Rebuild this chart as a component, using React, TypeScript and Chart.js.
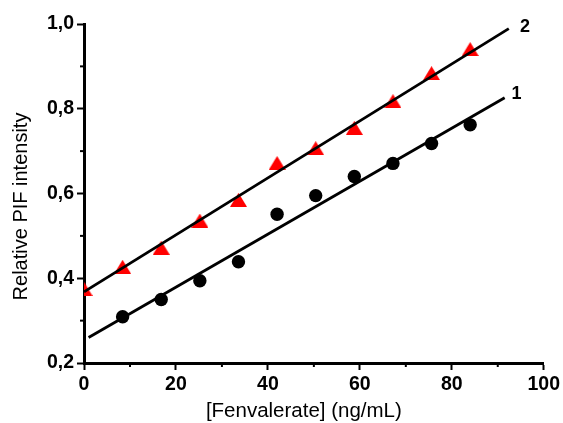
import React, { useEffect, useRef } from 'react';
import { Chart, registerables } from 'chart.js';

Chart.register(...registerables);

// Data
const series1X = [8.4, 16.8, 25.2, 33.6, 42, 50.4, 58.8, 67.2, 75.6, 84];
const series1Y = [0.309, 0.350, 0.394, 0.439, 0.551, 0.595, 0.640, 0.671, 0.718, 0.762];
const series2X = [0, 8.4, 16.8, 25.2, 33.6, 42, 50.4, 58.8, 67.2, 75.6, 84];
const series2Y = [0.375, 0.427, 0.472, 0.536, 0.585, 0.672, 0.707, 0.755, 0.818, 0.884, 0.941];
const fit1X = [1, 91.5];
const fit1Y = [0.26, 0.826];
const fit2X = [0, 92.4];
const fit2Y = [0.368, 0.989];
const lineLabels = ['1', '2'];
const lineLabelX = [94.1, 95.9];
const lineLabelY = [0.835, 0.993];
const xTicks = [0, 20, 40, 60, 80, 100];
const yTicks = [0.2, 0.4, 0.6, 0.8, 1.0];
const xMinorTicks = [10, 30, 50, 70, 90];
const yMinorTicks = [0.3, 0.5, 0.7, 0.9];
const xTitle = '[Fenvalerate] (ng/mL)';
const yTitle = 'Relative PIF intensity';

const FONT = 'Arial, "Liberation Sans", sans-serif';
const toPts = (xs: number[], ys: number[]) => xs.map((x, i) => ({ x, y: ys[i] }));
const fmt = (v: number) => v.toFixed(1).replace('.', ',');

function makeTriangle(w: number, h: number, color: string) {
  const c = document.createElement('canvas');
  c.width = w;
  c.height = h;
  const g = c.getContext('2d')!;
  g.fillStyle = color;
  g.beginPath();
  g.moveTo(w / 2, 0);
  g.lineTo(w, h);
  g.lineTo(0, h);
  g.closePath();
  g.fill();
  return c;
}

const extrasPlugin = {
  id: 'extras',
  afterDraw(chart: any) {
    const { ctx, chartArea, scales } = chart;
    const xs = scales.x;
    const ys = scales.y;
    ctx.save();
    ctx.strokeStyle = '#000';
    ctx.lineWidth = 2;
    xMinorTicks.forEach((v) => {
      const px = xs.getPixelForValue(v);
      ctx.beginPath();
      ctx.moveTo(px, chartArea.bottom);
      ctx.lineTo(px, chartArea.bottom + 4);
      ctx.stroke();
    });
    yMinorTicks.forEach((v) => {
      const py = ys.getPixelForValue(v);
      ctx.beginPath();
      ctx.moveTo(chartArea.left, py);
      ctx.lineTo(chartArea.left - 4, py);
      ctx.stroke();
    });
    ctx.fillStyle = '#000';
    ctx.font = `bold 18px ${FONT}`;
    ctx.textAlign = 'center';
    ctx.textBaseline = 'middle';
    lineLabels.forEach((t, i) => {
      ctx.fillText(t, xs.getPixelForValue(lineLabelX[i]), ys.getPixelForValue(lineLabelY[i]));
    });
    // axis titles
    ctx.font = `20.5px ${FONT}`;
    ctx.textBaseline = 'alphabetic';
    ctx.fillText(xTitle, (chartArea.left + chartArea.right) / 2 - 10, 416.5);
    ctx.font = `20px ${FONT}`;
    ctx.translate(27, (chartArea.top + chartArea.bottom) / 2 + 13);
    ctx.rotate(-Math.PI / 2);
    ctx.fillText(yTitle, 0, 0);
    ctx.restore();
  },
};

export default function App() {
  const ref = useRef<HTMLCanvasElement | null>(null);
  useEffect(() => {
    if (!ref.current) return;
    const tickFont = { family: FONT, size: 19.5, weight: 'bold' as const };
    const tri = makeTriangle(17, 14, '#ff0000');
    const chart = new Chart(ref.current, {
      type: 'scatter',
      data: {
        datasets: [
          {
            label: 'fit2',
            data: toPts(fit2X, fit2Y),
            showLine: true,
            borderColor: '#000',
            borderWidth: 2.8,
            pointRadius: 0,
          },
          {
            label: 'fit1',
            data: toPts(fit1X, fit1Y),
            showLine: true,
            borderColor: '#000',
            borderWidth: 2.8,
            pointRadius: 0,
          },
          {
            label: '2',
            data: toPts(series2X, series2Y),
            pointStyle: tri,
            pointRadius: 8.5,
            backgroundColor: '#ff0000',
            borderColor: '#ff0000',
            borderWidth: 0,
          },
          {
            label: '1',
            data: toPts(series1X, series1Y),
            pointStyle: 'circle',
            pointRadius: 6.7,
            backgroundColor: '#000',
            borderColor: '#000',
            borderWidth: 0,
          },
        ],
      } as any,
      options: {
        animation: false,
        responsive: true,
        maintainAspectRatio: false,
        layout: { padding: { left: 0, top: 24, right: 18, bottom: 0 } },
        plugins: { legend: { display: false }, tooltip: { enabled: false } },
        scales: {
          x: {
            type: 'linear',
            min: 0,
            max: 100,
            afterBuildTicks: (s: any) => {
              s.ticks = xTicks.map((v) => ({ value: v }));
            },
            afterFit: (s: any) => {
              s.height = 60;
            },
            ticks: { font: tickFont, color: '#000', padding: 3, maxRotation: 0 },
            grid: { drawOnChartArea: false, drawTicks: true, tickLength: 7, tickWidth: 2, tickColor: '#000' },
            border: { color: '#000', width: 3 },
          },
          y: {
            type: 'linear',
            min: 0.2,
            max: 1.0,
            afterBuildTicks: (s: any) => {
              s.ticks = yTicks.map((v) => ({ value: v }));
            },
            afterFit: (s: any) => {
              s.width = 84;
            },
            ticks: {
              font: tickFont,
              color: '#000',
              padding: 3,
              callback: (v: any) => fmt(Number(v)),
            },
            grid: { drawOnChartArea: false, drawTicks: true, tickLength: 7, tickWidth: 2, tickColor: '#000' },
            border: { color: '#000', width: 3 },
          },
        },
      },
      plugins: [extrasPlugin],
    });
    return () => chart.destroy();
  }, []);
  return (
    <div style={{ position: 'absolute', left: 0, top: 0, width: 563, height: 423, background: '#fff' }}>
      <canvas ref={ref} />
    </div>
  );
}
